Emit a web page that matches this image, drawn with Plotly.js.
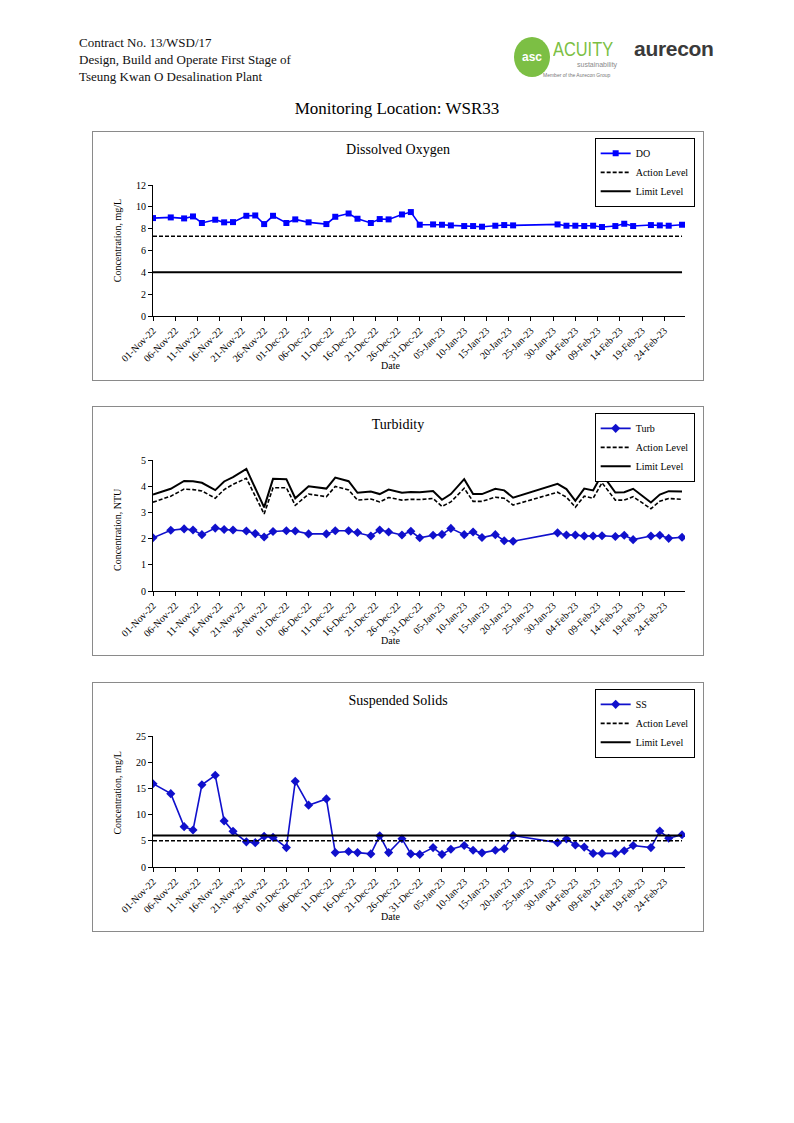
<!DOCTYPE html>
<html>
<head>
<meta charset="utf-8">
<script src="https://cdn.plot.ly/plotly-3.0.1.min.js"></script>
<style>
  html, body { margin: 0; padding: 0; background: #fff; }
  #page { position: relative; width: 794px; height: 1123px; background: #fff; overflow: hidden; }
  .hdr { position: absolute; left: 79px; font-family: "Liberation Serif", "Times New Roman", serif; font-size: 13px; color: #111; line-height: 17px; }
  .maintitle { position: absolute; left: 0; width: 794px; top: 99px; text-align: center; font-family: "Liberation Serif", serif; font-size: 17px; color: #000; }
  .box { position: absolute; left: 92px; width: 610px; height: 248px; border: 1px solid #8a8a8a; background: #fff; }
  .chart { position: absolute; left: 0; top: 0; width: 610px; height: 248px; }
  .logo-circle { position: absolute; left: 514px; top: 37px; width: 36px; height: 40px; border-radius: 50%; background: #7cbf44; color: #fff; font-family: "Liberation Sans", sans-serif; font-weight: bold; font-size: 12px; line-height: 40px; text-align: center; }
  .acuity { position: absolute; left: 553px; top: 38px; font-family: "Liberation Sans", sans-serif; font-size: 21px; line-height: 22px; color: #7cbf44; transform: scaleX(0.78); transform-origin: left top; }
  .sust { position: absolute; left: 577px; top: 61px; font-family: "Liberation Sans", sans-serif; font-size: 7px; line-height: 8px; color: #8a8a8a; }
  .member { position: absolute; left: 543px; top: 72px; font-family: "Liberation Sans", sans-serif; font-size: 5px; line-height: 6px; color: #777; }
  .aurecon { position: absolute; left: 634px; top: 37px; font-family: "Liberation Sans", sans-serif; font-weight: bold; font-size: 21px; line-height: 24px; color: #3a3a3a; letter-spacing: -0.3px; }
</style>
</head>
<body>
<div id="page">
  <div class="hdr" style="top:34px">Contract No. 13/WSD/17</div>
  <div class="hdr" style="top:51px">Design, Build and Operate First Stage of</div>
  <div class="hdr" style="top:68px">Tseung Kwan O Desalination Plant</div>

  <div class="logo-circle">asc</div>
  <div class="acuity">ACUITY</div>
  <div class="sust">sustainability</div>
  <div class="member">Member of the Aurecon Group</div>
  <div class="aurecon">aurecon</div>

  <div class="maintitle">Monitoring Location: WSR33</div>

  <div class="box" style="top:131px"><div id="chartDO" class="chart"></div></div>
  <div class="box" style="top:406px"><div id="chartTurb" class="chart"></div></div>
  <div class="box" style="top:682px"><div id="chartSS" class="chart"></div></div>
</div>

<script>
// ---------------- DATA ----------------
const dates = [
  '2022-11-01','2022-11-05','2022-11-08','2022-11-10','2022-11-12','2022-11-15','2022-11-17','2022-11-19','2022-11-22','2022-11-24','2022-11-26','2022-11-28',
  '2022-12-01','2022-12-03','2022-12-06','2022-12-10','2022-12-12','2022-12-15','2022-12-17','2022-12-20','2022-12-22','2022-12-24','2022-12-27','2022-12-29','2022-12-31',
  '2023-01-03','2023-01-05','2023-01-07','2023-01-10','2023-01-12','2023-01-14','2023-01-17','2023-01-19','2023-01-21','2023-01-31',
  '2023-02-02','2023-02-04','2023-02-06','2023-02-08','2023-02-10','2023-02-13','2023-02-15','2023-02-17','2023-02-21','2023-02-23','2023-02-25','2023-02-28'
];

const doValues = [
  8.97, 9.03, 8.94, 9.12, 8.52, 8.82, 8.58, 8.60, 9.18, 9.21, 8.42, 9.18,
  8.52, 8.85, 8.58, 8.42, 9.09, 9.39, 8.91, 8.52, 8.88, 8.85, 9.30, 9.52, 8.36,
  8.39, 8.36, 8.30, 8.24, 8.24, 8.18, 8.27, 8.33, 8.30, 8.39,
  8.27, 8.27, 8.24, 8.27, 8.15, 8.24, 8.45, 8.24, 8.33, 8.30, 8.27, 8.36
];
const doActionLevel = 7.3;
const doLimitLevel = 4.0;

const turbValues = [
  2.03, 2.32, 2.37, 2.33, 2.15, 2.40, 2.35, 2.33, 2.29, 2.19, 2.06, 2.27,
  2.30, 2.29, 2.18, 2.18, 2.30, 2.30, 2.23, 2.10, 2.33, 2.25, 2.14, 2.28, 2.03,
  2.13, 2.16, 2.39, 2.15, 2.25, 2.04, 2.15, 1.92, 1.90, 2.22,
  2.14, 2.14, 2.10, 2.10, 2.11, 2.08, 2.13, 1.96, 2.10, 2.13, 2.01, 2.05
];
const turbAction = [
  3.39, 3.62, 3.89, 3.87, 3.82, 3.54, 3.87, 4.07, 4.30, 3.62, 2.94, 3.94,
  3.94, 3.27, 3.70, 3.60, 3.99, 3.86, 3.47, 3.51, 3.40, 3.57, 3.47, 3.50, 3.49,
  3.53, 3.23, 3.40, 3.92, 3.42, 3.42, 3.58, 3.54, 3.28, 3.77,
  3.58, 3.20, 3.62, 3.54, 4.13, 3.47, 3.47, 3.60, 3.14, 3.43, 3.53, 3.50
];
const turbLimit = [
  3.68, 3.90, 4.20, 4.19, 4.13, 3.85, 4.18, 4.35, 4.66, 3.92, 3.19, 4.28,
  4.27, 3.54, 4.00, 3.91, 4.33, 4.19, 3.75, 3.80, 3.70, 3.87, 3.75, 3.78, 3.77,
  3.82, 3.48, 3.70, 4.27, 3.70, 3.70, 3.90, 3.84, 3.56, 4.09,
  3.89, 3.44, 3.91, 3.84, 4.46, 3.76, 3.77, 3.90, 3.38, 3.68, 3.81, 3.80
];

const ssValues = [
  15.9, 14.0, 7.7, 7.05, 15.7, 17.5, 8.8, 6.8, 4.8, 4.65, 5.85, 5.65,
  3.7, 16.35, 11.8, 13.0, 2.75, 2.95, 2.75, 2.5, 5.97, 2.75, 5.4, 2.5, 2.4,
  3.7, 2.4, 3.4, 4.1, 3.2, 2.7, 3.2, 3.5, 6.0, 4.65,
  5.35, 4.2, 3.8, 2.6, 2.6, 2.6, 3.1, 4.1, 3.7, 6.85, 5.5, 6.15
];
const ssActionLevel = 5.0;
const ssLimitLevel = 6.0;

const xRange = ['2022-11-01', '2023-02-28 16:00'];
const xTick0 = '2022-11-01';

// ---------------- HELPERS ----------------
const FONT = 'Liberation Serif, Times New Roman, serif';
const PLOT_W = 533, PLOT_H = 132, ML = 59.5, MT = 52.5;

function levelTrace(y, name, dashed) {
  return {
    x: Array.isArray(y) ? dates : [dates[0], dates[dates.length - 1]],
    y: Array.isArray(y) ? y : [y, y],
    name: name, mode: 'lines', type: 'scatter',
    line: { color: '#000', width: dashed ? 1.6 : 2, dash: dashed ? '4px,2px' : 'solid' },
    hoverinfo: 'skip'
  };
}

function makeChart(id, cfg) {
  const main = {
    x: dates, y: cfg.values, name: cfg.name, type: 'scatter', mode: 'lines+markers',
    line: { color: cfg.color, width: 1.6 },
    marker: { symbol: cfg.symbol, size: cfg.msize, color: cfg.color }
  };
  const traces = [main, levelTrace(cfg.action, 'Action Level', true), levelTrace(cfg.limit, 'Limit Level', false)];
  const layout = {
    width: 610, height: 248,
    margin: { l: ML, r: 610 - ML - PLOT_W, t: MT, b: 248 - MT - PLOT_H, pad: 0, autoexpand: false },
    paper_bgcolor: '#fff', plot_bgcolor: '#fff',
    font: { family: FONT, size: 10, color: '#000' },
    title: { text: cfg.title, font: { family: FONT, size: 14, color: '#000' },
             xref: 'container', x: 0.5, xanchor: 'center', yref: 'container', y: 1 - 17.5 / 248, yanchor: 'middle' },
    showlegend: true,
    legend: {
      x: (502 - ML) / PLOT_W, y: 1 + (MT - 5) / PLOT_H, xanchor: 'left', yanchor: 'top',
      bgcolor: '#fff', bordercolor: '#000', borderwidth: 1,
      font: { family: FONT, size: 10, color: '#000' }, tracegroupgap: 0, itemwidth: 30
    },
    xaxis: {
      type: 'date', range: xRange, tick0: xTick0, dtick: 5 * 86400000,
      tickformat: '%d-%b-%y', tickangle: -45, automargin: false,
      showline: true, linecolor: '#000', linewidth: 1, ticks: 'outside', ticklen: 4, tickcolor: '#000',
      showgrid: false, zeroline: false, tickfont: { family: FONT, size: 10, color: '#000' }
    },
    yaxis: {
      range: cfg.yrange, dtick: cfg.dtick, tick0: 0, automargin: false,
      showline: true, linecolor: '#000', linewidth: 1, ticks: 'outside', ticklen: 4, tickcolor: '#000',
      showgrid: false, zeroline: false, tickfont: { family: FONT, size: 10, color: '#000' }
    },
    annotations: [
      { text: cfg.ytitle, xref: 'paper', yref: 'paper', x: (24 - ML) / PLOT_W, y: cfg.ytitleY,
        textangle: -90, showarrow: false, xanchor: 'center', yanchor: 'middle',
        font: { family: FONT, size: 10, color: '#000' } },
      { text: 'Date', xref: 'paper', yref: 'paper', x: (297 - ML) / PLOT_W, y: -50 / PLOT_H,
        showarrow: false, xanchor: 'center', yanchor: 'middle',
        font: { family: FONT, size: 10, color: '#000' } }
    ]
  };
  Plotly.newPlot(id, traces, layout, { staticPlot: true, displayModeBar: false });
}

makeChart('chartDO', {
  title: 'Dissolved Oxygen', name: 'DO', values: doValues, action: doActionLevel, limit: doLimitLevel,
  color: '#0000FF', symbol: 'square', msize: 6, yrange: [0, 12], dtick: 2,
  ytitle: 'Concentration, mg/L', ytitleY: 0.575
});
makeChart('chartTurb', {
  title: 'Turbidity', name: 'Turb', values: turbValues, action: turbAction, limit: turbLimit,
  color: '#1010CC', symbol: 'diamond', msize: 7, yrange: [0, 5], dtick: 1,
  ytitle: 'Concentration, NTU', ytitleY: 0.47
});
makeChart('chartSS', {
  title: 'Suspended Solids', name: 'SS', values: ssValues, action: ssActionLevel, limit: ssLimitLevel,
  color: '#1010CC', symbol: 'diamond', msize: 7, yrange: [0, 25], dtick: 5,
  ytitle: 'Concentration, mg/L', ytitleY: 0.565
});
</script>
</body>
</html>
